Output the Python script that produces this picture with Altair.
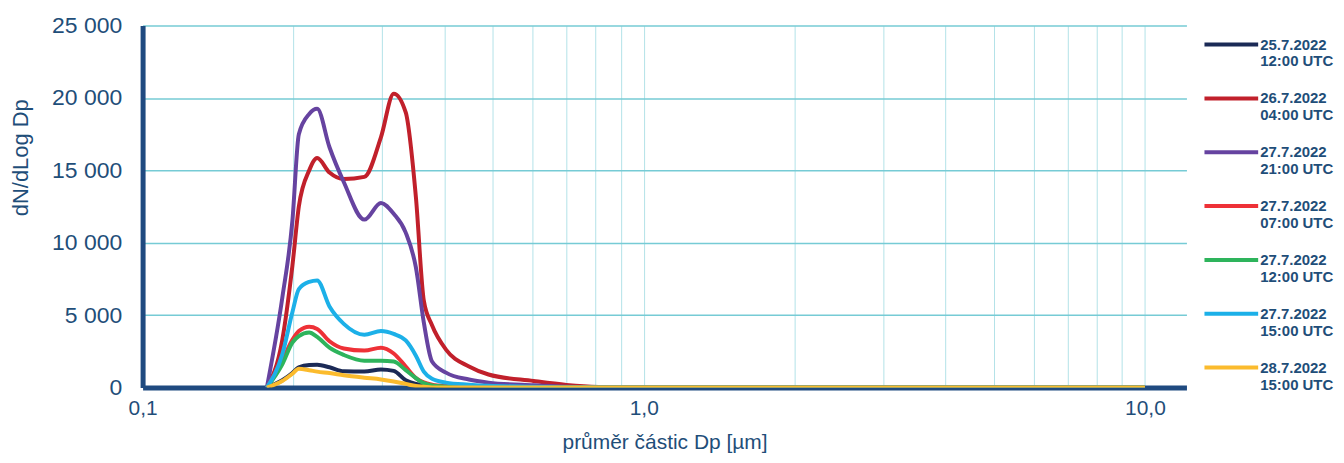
import altair as alt
import pandas as pd

# particle diameter [µm]
diam = [0.177, 0.190, 0.199, 0.205, 0.215, 0.223, 0.236, 0.252, 0.277, 0.299, 0.317,
        0.335, 0.351, 0.364, 0.378, 0.403, 0.448, 0.490, 0.603, 0.701, 0.812, 1.0, 10.0]

s_25_12 = [0, 500, 1000, 1400, 1560, 1570, 1400, 1120, 1100, 1250, 1150,
           500, 250, 150, 80, 20, 0, 0, 0, 0, 0, 0, 0]
s_26_04 = [0, 3300, 8400, 12500, 15000, 15850, 14850, 14400, 14550, 17300, 20300,
           19000, 13150, 6000, 4300, 2620, 1450, 900, 450, 180, 40, 0, 0]
s_27_21 = [0, 6200, 11500, 17500, 18900, 19250, 16600, 14200, 11600, 12750, 12000,
           10700, 8300, 4500, 1800, 1030, 550, 340, 150, 50, 0, 0, 0]
s_27_07 = [0, 1850, 3300, 3900, 4200, 4050, 3200, 2700, 2550, 2750, 2350,
           1450, 650, 350, 200, 100, 50, 0, 0, 0, 0, 0, 0]
s_27_12 = [0, 1600, 3100, 3550, 3800, 3500, 2750, 2250, 1850, 1850, 1800,
           1200, 650, 300, 150, 60, 0, 0, 0, 0, 0, 0, 0]
s_27_15 = [0, 2300, 5200, 6800, 7300, 7400, 5600, 4400, 3650, 3900, 3700,
           3250, 2200, 1100, 600, 340, 200, 120, 50, 0, 0, 0, 0]
s_28_15 = [0, 450, 950, 1300, 1200, 1100, 1000, 850, 680, 560, 420,
           250, 100, 50, 0, 0, 0, 0, 0, 0, 0, 0, 0]

series_names = ["25.7.2022|12:00 UTC", "26.7.2022|04:00 UTC", "27.7.2022|21:00 UTC",
                "27.7.2022|07:00 UTC", "27.7.2022|12:00 UTC", "27.7.2022|15:00 UTC",
                "28.7.2022|15:00 UTC"]
series_values = [s_25_12, s_26_04, s_27_21, s_27_07, s_27_12, s_27_15, s_28_15]
series_colors = ["#1b2a56", "#c1202b", "#6643a0", "#ee3137", "#2eb45c", "#1cb0e8", "#fbbb2d"]

grid_x = [0.1, 0.2, 0.3, 0.4, 0.5, 0.6, 0.7, 0.8, 0.9,
          1, 2, 3, 4, 5, 6, 7, 8, 9, 10]
y_ticks = [0, 5000, 10000, 15000, 20000, 25000]

rows = []
for i, (name, vals) in enumerate(zip(series_names, series_values)):
    for d, v in zip(diam, vals):
        rows.append({"d": d, "v": v, "s": name, "o": i})
df = pd.DataFrame(rows)

TXT = "#1f4e79"
FONT = "Liberation Sans"

chart = alt.Chart(df).mark_line(strokeWidth=4, interpolate="monotone", clip=True).encode(
    x=alt.X("d:Q", scale=alt.Scale(type="log", domain=[0.1, 12.1], nice=False),
            axis=alt.Axis(values=grid_x, title="průměr částic Dp [µm]",
                          labelExpr="datum.value == 0.1 ? '0,1' : datum.value == 1 ? '1,0' : datum.value == 10 ? '10,0' : ''",
                          ticks=False, labelPadding=10, labelFontSize=21, labelFont=FONT,
                          labelColor=TXT, labelFlush=False,
                          titleFontSize=21, titleFont=FONT, titleFontWeight="normal",
                          titleColor=TXT, titleY=65, titleBaseline="bottom",
                          grid=True, gridColor="#b3e2e8", gridWidth=1,
                          domainColor="#1f4a80", domainWidth=5)),
    y=alt.Y("v:Q", scale=alt.Scale(domain=[0, 25000], nice=False),
            axis=alt.Axis(values=y_ticks, title="dN/dLog Dp",
                          labelExpr="replace(format(datum.value, ','), ',', ' ')",
                          ticks=False, labelPadding=21, labelFontSize=23, labelFont=FONT,
                          labelColor=TXT,
                          titleFontSize=22, titleFont=FONT, titleFontWeight="normal",
                          titleColor=TXT, titleX=-122, titleY=132, titleAngle=-90,
                          titleAlign="center", titleBaseline="middle",
                          grid=True, gridColor="#76cbd5", gridWidth=1.5,
                          domainColor="#1f4a80", domainWidth=5)),
    color=alt.Color("s:N", sort=series_names,
                    scale=alt.Scale(domain=series_names, range=series_colors),
                    legend=alt.Legend(orient="none", legendX=1063, legendY=-10, title=None,
                                      symbolType="stroke", symbolSize=2900,
                                      symbolStrokeWidth=4, labelFont=FONT,
                                      labelFontSize=15, labelFontWeight="bold",
                                      labelColor=TXT, labelExpr="split(datum.label, '|')",
                                      labelOffset=0, labelLimit=200,
                                      rowPadding=0)),
    order=alt.Order("o:Q"),
    detail="s:N",
).properties(
    width=1047, height=363,
    autosize=alt.AutoSizeParams(type="none"),
    padding={"left": 135, "top": 17, "right": 150, "bottom": 67},
).configure_view(stroke=None)

chart.save("out.html", embed_options={"renderer": "svg", "actions": False})
